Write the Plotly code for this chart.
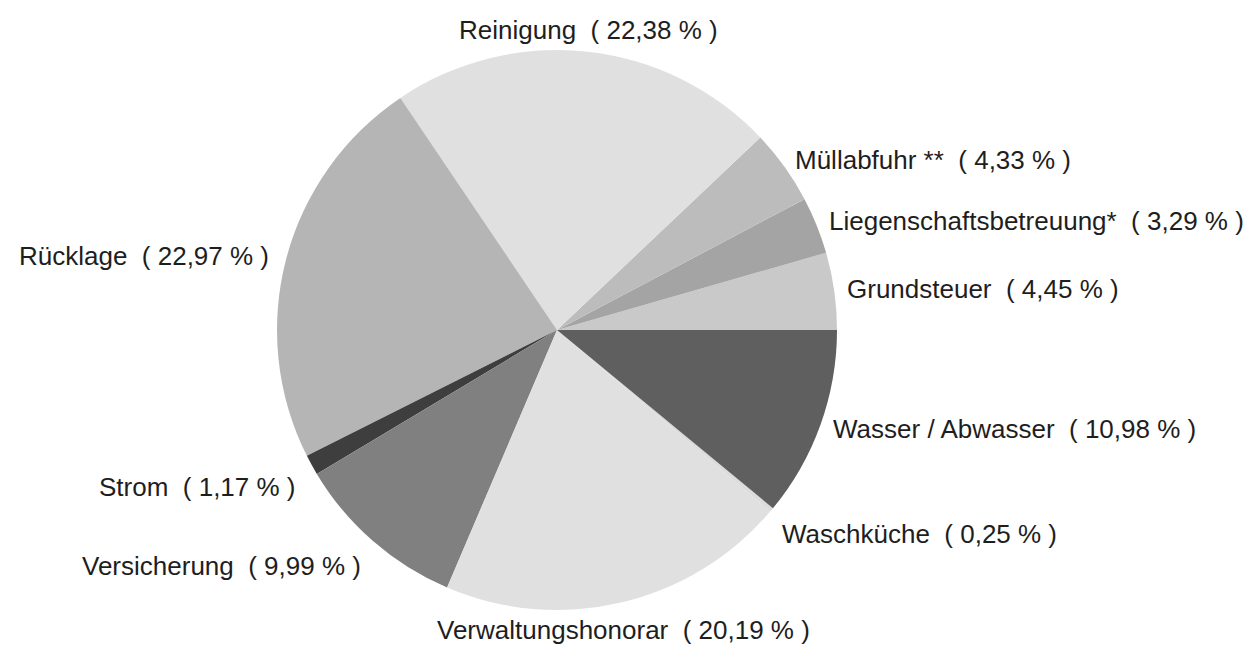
import math
import plotly.graph_objects as go

categories = ["Grundsteuer", "Liegenschaftsbetreuung*", "Müllabfuhr **", "Reinigung", "Rücklage",
              "Strom", "Versicherung", "Verwaltungshonorar", "Waschküche", "Wasser / Abwasser"]
values = [4.45, 3.29, 4.33, 22.38, 22.97, 1.17, 9.99, 20.19, 0.25, 10.98]
value_labels = ["4,45", "3,29", "4,33", "22,38", "22,97", "1,17", "9,99", "20,19", "0,25", "10,98"]
colors = ["#c9c9c9", "#a4a4a4", "#bcbcbc", "#e0e0e0", "#b5b5b5",
          "#3e3e3e", "#808080", "#e0e0e0", "#dcdcdc", "#5f5f5f"]

W, H = 1257, 650
CX, CY, R = 557, 330, 280      # pie centre / radius in pixels
R_LABEL = 292                   # label anchor distance

total = sum(values)
texts = [f"{c}\u00a0\u00a0(\u00a0{v}\u00a0%\u00a0)" for c, v in zip(categories, value_labels)]

fig = go.Figure(go.Pie(
    labels=categories,
    values=values,
    textinfo="none",
    sort=False,
    direction="counterclockwise",
    rotation=90 - values[0] / total * 360,
    marker=dict(colors=colors, line=dict(width=0)),
    domain=dict(x=[(CX - R) / W, (CX + R) / W], y=[1 - (CY + R) / H, 1 - (CY - R) / H]),
    showlegend=False,
    hoverinfo="label+percent",
))

annotations = []
cum = 0.0
for t, v in zip(texts, values):
    theta = math.radians((cum + v / 2) / total * 360)
    cum += v
    c, s = math.cos(theta), math.sin(theta)
    rl = R_LABEL + 5 if c < -0.3 else R_LABEL
    px = CX + rl * c
    py = CY - (R_LABEL - 6) * s if s > 0.7 else CY - R_LABEL * s
    xanchor = "left" if c > 0.3 else ("right" if c < -0.3 else "center")
    yanchor = "bottom" if s > 0.7 else ("top" if s < -0.4 else "middle")
    annotations.append(dict(
        x=px / W, y=1 - py / H, xref="paper", yref="paper",
        text=t, showarrow=False, xanchor=xanchor, yanchor=yanchor, borderpad=0,
        font=dict(family="Liberation Sans, Arial, sans-serif", size=26, color="#1e1e1e"),
    ))

fig.update_layout(
    width=W, height=H,
    margin=dict(l=0, r=0, t=0, b=0),
    paper_bgcolor="white",
    plot_bgcolor="white",
    annotations=annotations,
)
fig.write_html("out.html", config={"displayModeBar": False},
               post_script="document.body.style.margin='0';")
